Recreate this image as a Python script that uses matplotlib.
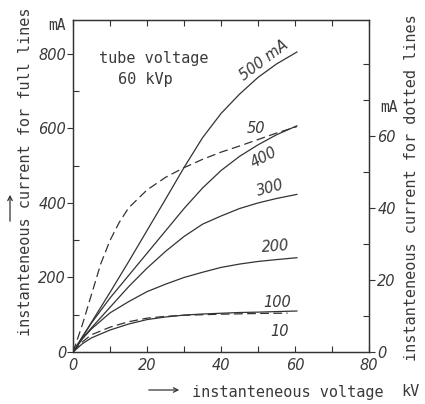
import matplotlib
matplotlib.use('Agg')
import matplotlib.pyplot as plt

# tube voltage 60 kVp, full lines (left axis, mA)
kv = [0, 2.5, 5, 10, 15, 20, 25, 30, 35, 40, 45, 50, 55, 60.5]
i500 = [0, 40, 80, 160, 242, 326, 410, 495, 575, 640, 692, 737, 773, 805]
i400 = [0, 40, 78, 145, 205, 265, 325, 385, 440, 487, 525, 556, 583, 607]
i300 = [0, 36, 65, 120, 175, 225, 270, 310, 343, 365, 385, 400, 412, 423]
i200 = [0, 35, 62, 105, 135, 162, 182, 200, 214, 227, 236, 243, 248, 253]
i100 = [0, 22, 38, 59, 75, 87, 94, 99, 102, 104, 106, 107, 108.5, 110]

# dotted lines (right axis, mA)
kv_d = [0, 2.5, 5, 7.5, 10, 12.5, 15, 20, 25, 30, 35, 40, 45, 50, 55, 60.5]
i50 = [0, 7.5, 16, 24.5, 31, 36, 40, 45, 48.5, 51.2, 53.5, 55.5, 57.2, 59, 60.8, 62.6]
kv_10 = [0, 2.5, 5, 10, 15, 20, 25, 30, 40, 50, 58]
i10 = [0, 2.8, 4.8, 6.9, 8.4, 9.4, 9.9, 10.2, 10.5, 10.7, 10.8]

ink = '#333333'
txt = '#3a3a3a'
mono = 'DejaVu Sans Mono'

fig = plt.figure(figsize=(4.25, 4.04), dpi=100)
ax = fig.add_axes([0.1718, 0.1287, 0.6965, 0.8218])
ax2 = ax.twinx()

for y in [i500, i400, i300, i200, i100]:
    ax.plot(kv, y, color=ink, lw=0.9)
ax2.plot(kv_d, i50, color=ink, lw=0.9, dashes=(7, 3.5))
ax2.plot(kv_10, i10, color=ink, lw=0.9, dashes=(7, 3.5))

ax.set_xlim(0, 80)
ax.set_ylim(0, 891)
ax2.set_ylim(0, 92.2)

for s in ax.spines.values():
    s.set_linewidth(0.9)
    s.set_color(ink)
for s in ax2.spines.values():
    s.set_linewidth(0.9)
    s.set_color(ink)

ax.set_xticks([0, 20, 40, 60, 80], ['0', '20', '40', '60', '80'], fontstyle='italic')
ax.set_xticks([10, 30, 50, 70], minor=True)
ax.set_yticks([0, 200, 400, 600, 800], ['0', '200', '400', '600', '800'], fontstyle='italic')
ax.set_yticks([100, 300, 500, 700], minor=True)
ax2.set_yticks([0, 20, 40, 60], ['0', '20', '40', '60'], fontstyle='italic')
ax2.set_yticks([10, 30, 50, 70, 80], minor=True)

ax.tick_params(axis='x', which='both', direction='in', top=True, length=4,
               width=0.8, color=ink, labelsize=10.5, labelcolor=txt, pad=4)
ax.tick_params(axis='y', which='major', direction='out', length=4, width=0.8,
               color=ink, labelsize=10.5, labelcolor=txt, pad=1)
ax.tick_params(axis='y', which='minor', direction='in', length=4, width=0.8, color=ink)
ax2.tick_params(axis='y', which='major', direction='out', length=4, width=0.8,
                color=ink, labelsize=10.5, labelcolor=txt, pad=2)
ax2.tick_params(axis='y', which='minor', direction='in', length=4, width=0.8, color=ink)

# curve labels
lab = dict(color=txt, fontsize=10.5, fontstyle='italic', ha='center', va='center')
ax.text(51.6, 784, '500 mA', rotation=37, **lab)
ax.text(49.5, 599, '50', **lab)
ax.text(51.6, 523, '400', rotation=28, **lab)
ax.text(53.2, 440, '300', rotation=15, **lab)
ax.text(54.6, 282, '200', rotation=4, **lab)
ax.text(55.1, 134, '100', **lab)
ax.text(55.9, 54, '10', **lab)

ax.text(21.9, 787, 'tube voltage', family=mono, fontsize=11, color=txt, ha='center', va='center')
ax.text(19.5, 730, '60 kVp', family=mono, fontsize=11, color=txt, ha='center', va='center')

# axis titles
fig.text(57 / 425, 1 - 26 / 404, 'mA', family=mono, fontsize=10.5, color=txt, ha='center', va='center')
fig.text(389 / 425, 1 - 108 / 404, 'mA', family=mono, fontsize=10.5, color=txt, ha='center', va='center')
fig.text(26 / 425, 1 - 172 / 404, 'instanteneous current for full lines', family=mono,
         fontsize=11, color=txt, rotation=90, ha='center', va='center')
fig.text(411 / 425, 1 - 188 / 404, 'instanteneous current for dotted lines', family=mono,
         fontsize=11, color=txt, rotation=90, ha='center', va='center')
fig.text(288 / 425, 1 - 392 / 404, 'instanteneous voltage', family=mono,
         fontsize=11, color=txt, ha='center', va='center')
fig.text(401 / 425, 1 - 392 / 404, 'kV', family=mono, fontsize=11, color=txt,
         ha='left', va='center')

arr = dict(arrowstyle='->', lw=0.9, color=ink)
fig.add_artist(matplotlib.patches.FancyArrowPatch((146 / 425, 1 - 390 / 404), (182 / 425, 1 - 390 / 404),
               transform=fig.transFigure, mutation_scale=8, **arr))
fig.add_artist(matplotlib.patches.FancyArrowPatch((10 / 425, 1 - 224 / 404), (10 / 425, 1 - 192 / 404),
               transform=fig.transFigure, mutation_scale=8, **arr))

fig.savefig('out.png', dpi=100)
